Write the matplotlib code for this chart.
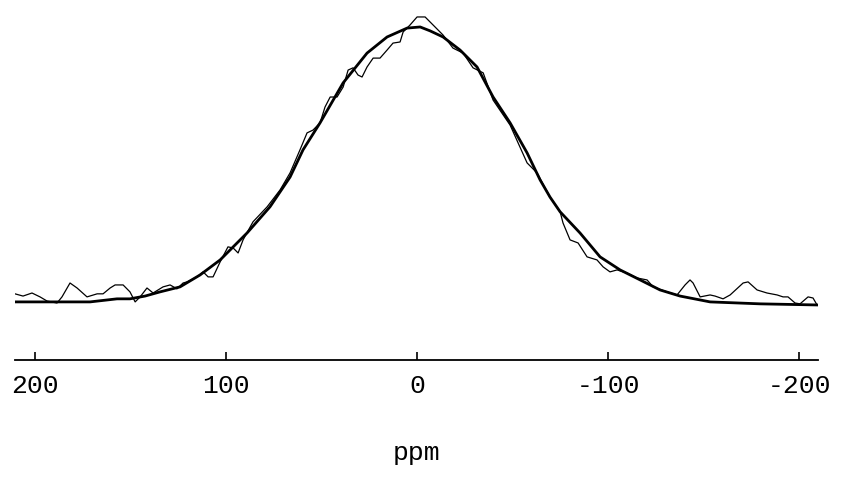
import matplotlib.pyplot as plt

# Experimental spectrum (chemical shift in ppm, intensity in % of fit maximum)
exp_ppm = [210.5, 206.3, 201.6, 197.4, 193.7, 188.5, 185.9, 181.7, 178.0, 172.8,
           167.5, 164.4, 160.7, 158.1, 153.9, 150.3, 147.6, 145.0, 141.4, 138.2,
           133.0, 129.3, 125.7, 122.5, 120.4, 115.2, 112.0, 109.4, 106.8, 103.1,
           99.0, 96.3, 93.7, 91.1, 85.9, 78.5, 71.7, 66.5, 61.3, 57.6,
           54.5, 50.8, 48.2, 45.5, 41.9, 38.7, 36.1, 33.5, 30.9, 28.8,
           26.2, 23.0, 19.4, 15.7, 12.6, 8.9, 7.3, 3.7, 0.0, -4.2,
           -8.4, -13.6, -18.8, -24.1, -29.3, -34.6, -39.8, -48.7, -57.6, -62.8,
           -69.6, -74.9, -76.4, -80.1, -84.3, -89.0, -94.2, -97.4, -101.0, -104.7,
           -109.9, -115.2, -120.4, -123.6, -130.9, -136.1, -140.3, -142.9, -144.5, -148.2,
           -153.4, -156.0, -160.2, -163.9, -170.7, -173.3, -178.0, -183.2, -188.5, -191.6,
           -194.2, -197.9, -200.5, -204.7, -207.3, -209.4]
exp_int = [4.0, 3.2, 4.3, 2.9, 1.4, 0.7, 2.9, 7.9, 6.1, 2.9,
           4.0, 4.0, 6.1, 7.2, 7.2, 4.7, 1.1, 2.9, 6.1, 4.3,
           6.5, 7.2, 5.8, 7.9, 8.3, 10.1, 11.9, 10.1, 10.1, 15.5,
           20.9, 20.5, 18.7, 23.4, 29.9, 35.3, 41.4, 47.5, 55.8, 61.9,
           62.9, 65.5, 71.2, 74.8, 74.8, 78.4, 84.5, 85.3, 82.7, 82.0,
           85.6, 88.8, 88.8, 91.7, 94.2, 94.6, 98.2, 100.7, 103.6, 103.6,
           100.7, 97.1, 92.4, 90.6, 85.3, 83.5, 73.7, 64.7, 51.1, 47.5,
           38.8, 33.5, 29.5, 23.4, 22.3, 17.3, 16.2, 13.7, 11.9, 12.6,
           11.5, 9.7, 9.0, 6.5, 4.7, 3.6, 7.2, 9.0, 7.9, 2.9,
           3.6, 3.2, 2.2, 3.6, 7.9, 8.3, 5.4, 4.3, 3.6, 2.9,
           2.9, 0.7, 0.4, 2.9, 2.5, 0.0]

# Fitted line shape
fit_ppm = [210.5, 192.1, 171.2, 157.1, 150.3, 142.4, 134.6, 124.1, 113.6, 103.1,
           89.0, 77.0, 66.5, 59.7, 50.8, 38.7, 26.2, 15.7, 5.2, -1.6,
           -6.8, -13.6, -22.5, -31.4, -39.8, -48.7, -57.6, -64.4, -69.6, -74.9,
           -85.3, -95.8, -106.3, -116.8, -127.2, -137.7, -153.4, -179.6, -209.4]
fit_int = [1.1, 1.1, 1.1, 2.2, 2.2, 3.2, 4.7, 6.5, 10.8, 16.2,
           25.9, 35.3, 46.0, 55.8, 65.5, 79.9, 90.6, 96.4, 99.6, 100.0,
           98.6, 96.4, 91.7, 85.6, 74.8, 65.5, 54.7, 45.0, 38.8, 33.5,
           25.9, 17.3, 12.6, 9.0, 5.4, 3.2, 1.1, 0.4, 0.0]

tick_vals = [200, 100, 0, -100, -200]
tick_labels = ['200', '100', '0', '-100', '-200']

fig = plt.figure(figsize=(8.47, 4.86), dpi=100)
ax = fig.add_axes([15 / 847, 1 - 360 / 486, 803 / 847, 360 / 486])

ax.plot(fit_ppm, fit_int, color='black', lw=2.0, solid_joinstyle='round')
ax.plot(exp_ppm, exp_int, color='black', lw=0.9)

ax.set_xlim(210.5, -209.9)
ax.set_ylim(-19.8, 109.7)

for side in ['top', 'left', 'right']:
    ax.spines[side].set_visible(False)
ax.spines['bottom'].set_linewidth(1.3)
ax.set_yticks([])

ax.set_xticks(tick_vals)
ax.set_xticklabels(tick_labels, family='Liberation Mono', fontsize=19)
ax.tick_params(axis='x', direction='in', length=6, width=1.2, pad=10)
ax.set_xlabel('ppm', family='Liberation Mono', fontsize=19, labelpad=31)

fig.savefig('out.png', dpi=100)
